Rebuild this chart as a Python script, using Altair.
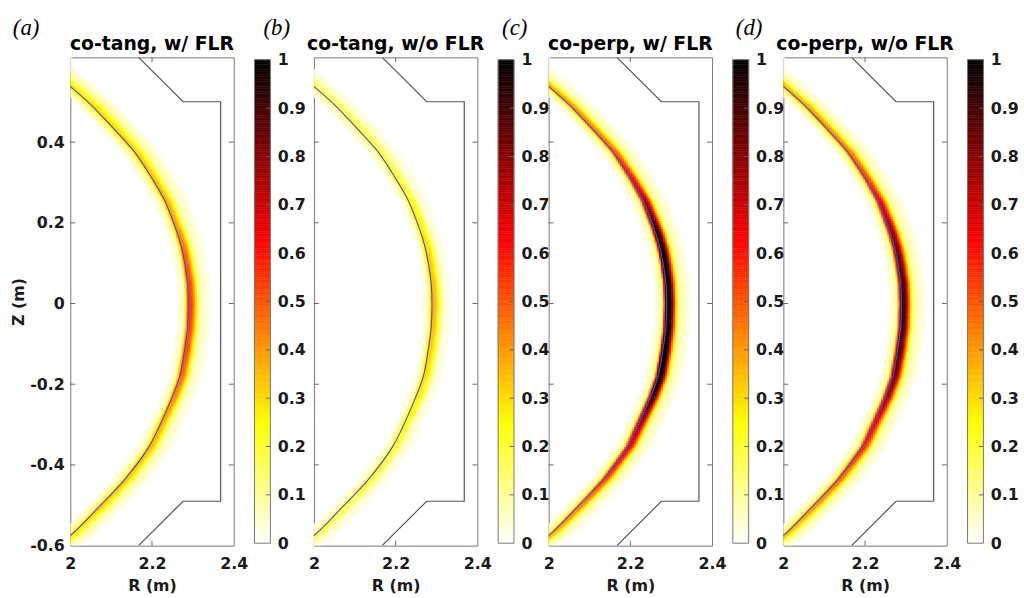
import numpy as np
import pandas as pd
import altair as alt

# ---------------- data ----------------
# plasma boundary (blue line), R (m) and Z (m)
curve_R = [1.945, 2.000, 2.053, 2.098, 2.157, 2.200, 2.232, 2.260, 2.272, 2.280, 2.287,
           2.289, 2.287, 2.279, 2.268, 2.248, 2.193, 2.134, 2.070, 2.000, 1.95]
curve_Z = [0.585, 0.538, 0.490, 0.442, 0.376, 0.310, 0.253, 0.180, 0.140, 0.100, 0.050,
           0.0, -0.060, -0.120, -0.180, -0.235, -0.354, -0.435, -0.504, -0.575, -0.61]

# wall outline (grey line)
wall_R = [2.167, 2.276, 2.368, 2.368, 2.276, 2.167]
wall_Z = [0.61, 0.500, 0.500, -0.490, -0.490, -0.600]

# heat-load intensity along the boundary (sampled at these Z)
Z_PTS = [0.6, 0.5, 0.4, 0.3, 0.2, 0.1, 0.0, -0.1, -0.2, -0.3, -0.4, -0.5, -0.6]
core_a = [0.10, 0.13, 0.16, 0.22, 0.30, 0.42, 0.48, 0.44, 0.38, 0.28, 0.22, 0.18, 0.14]
haze_a = [0.16, 0.18, 0.17, 0.14, 0.11, 0.10, 0.10, 0.10, 0.10, 0.11, 0.13, 0.15, 0.14]
core_b = [0.08, 0.10, 0.12, 0.16, 0.22, 0.28, 0.32, 0.28, 0.24, 0.18, 0.15, 0.12, 0.10]
haze_b = [0.08, 0.09, 0.08, 0.07, 0.06, 0.06, 0.06, 0.06, 0.06, 0.06, 0.07, 0.08, 0.08]
core_c = [0.20, 0.27, 0.33, 0.52, 0.82, 0.94, 1.00, 0.97, 0.92, 0.66, 0.45, 0.32, 0.22]
haze_c = [0.13, 0.15, 0.15, 0.15, 0.15, 0.15, 0.15, 0.15, 0.15, 0.15, 0.15, 0.15, 0.13]
core_d = [0.20, 0.25, 0.30, 0.42, 0.65, 0.78, 0.84, 0.80, 0.72, 0.52, 0.38, 0.28, 0.20]
haze_d = [0.13, 0.15, 0.15, 0.15, 0.15, 0.15, 0.15, 0.15, 0.15, 0.15, 0.15, 0.15, 0.13]

# radial shape across the boundary (distance R - R_boundary, m)
CORE_D = [-0.010, -0.005, 0.0, 0.006, 0.012, 0.018, 0.024, 0.032]
CORE_F = [0.0, 0.45, 0.90, 1.00, 0.85, 0.50, 0.20, 0.0]
HALO_D = [-0.035, -0.015, 0.0, 0.020, 0.040, 0.060, 0.085]
HALO_F = [0.0, 0.50, 1.00, 0.85, 0.45, 0.12, 0.0]

titles = ["co-tang, w/ FLR", "co-tang, w/o FLR", "co-perp, w/ FLR", "co-perp, w/o FLR"]
labels = ["(a)", "(b)", "(c)", "(d)"]
label_dx = [-58, -51, -47, -48]
cores = [core_a, core_b, core_c, core_d]
hazes = [haze_a, haze_b, haze_c, haze_d]

R_TICKS = [2, 2.2, 2.4]
Z_TICKS = [-0.6, -0.4, -0.2, 0, 0.2, 0.4]
CB_TICKS = [0, 0.1, 0.2, 0.3, 0.4, 0.5, 0.6, 0.7, 0.8, 0.9, 1]

# ---------------- build tables ----------------
zs_sorted = np.array(curve_Z[::-1])
rs_sorted = np.array(curve_R[::-1])
zp = np.array(Z_PTS[::-1])


def field(core_vals, haze_vals):
    dR, dZ = 0.005, 0.005
    rows = []
    for z0 in np.round(np.arange(-0.6, 0.6075, dZ), 4):
        zc = z0 + dZ / 2
        rc = np.interp(zc, zs_sorted, rs_sorted)
        cp = np.interp(zc, zp, np.array(core_vals[::-1]))
        hp = np.interp(zc, zp, np.array(haze_vals[::-1]))
        for r0 in np.round(np.arange(2.0, 2.4, dR), 4):
            d = r0 + dR / 2 - rc
            v = cp * np.interp(d, CORE_D, CORE_F, left=0, right=0) + \
                hp * np.interp(d, HALO_D, HALO_F, left=0, right=0)
            v = min(v, 1.0)
            if v >= 0.02:
                rows.append((r0, r0 + dR, z0, min(z0 + dZ, 0.61), round(v, 4)))
    return pd.DataFrame(rows, columns=["x", "x2", "y", "y2", "v"])


curve_df = pd.DataFrame({"x": curve_R, "y": curve_Z, "i": range(len(curve_R))})
wall_df = pd.DataFrame({"x": wall_R, "y": wall_Z, "i": range(len(wall_R))})

tick_rows = []
for z in Z_TICKS[1:]:
    tick_rows.append((2.0, 2.012, z, z))
    tick_rows.append((2.388, 2.4, z, z))
for r in R_TICKS[1:-1]:
    tick_rows.append((r, r, -0.6, -0.588))
    tick_rows.append((r, r, 0.598, 0.61))
ticks_df = pd.DataFrame(tick_rows, columns=["x", "x2", "y", "y2"])

cb_vals = np.round(np.arange(0, 1, 0.005), 4)
cb_df = pd.DataFrame({"y": cb_vals, "y2": cb_vals + 0.005, "v": cb_vals + 0.0025})
cb_tick_df = pd.DataFrame({"y": CB_TICKS[1:-1]})
cb_box_df = pd.DataFrame({"y": [0.0], "y2": [1.0]})

# ---------------- styling ----------------
FONT = "DejaVu Sans"
color_scale = alt.Scale(domain=[0, 0.25, 0.625, 1],
                        range=["#ffffff", "#ffff00", "#ff0000", "#000000"],
                        interpolate="rgb")
xs = alt.Scale(domain=[2.0, 2.4], nice=False, zero=False)
ys = alt.Scale(domain=[-0.6, 0.61], nice=False, zero=False)

PW, PH = 165, 493
LFS = 16


def x_axis():
    return alt.Axis(values=R_TICKS, labelExpr="'' + datum.value", labelFlush=False,
                    domain=False, ticks=False, grid=False, labelFont=FONT,
                    labelFontWeight="bold", labelFontSize=LFS, labelColor="#1a1a1a",
                    labelPadding=10, titleFont=FONT, titleFontWeight="bold",
                    titleFontSize=LFS, titleColor="#1a1a1a", titlePadding=6)


def y_axis():
    return alt.Axis(values=Z_TICKS, labelExpr="'' + datum.value", labelFlush=False,
                    domain=False, ticks=False, grid=False, labelFont=FONT,
                    labelFontWeight="bold", labelFontSize=LFS, labelColor="#1a1a1a",
                    labelPadding=6, titleFont=FONT, titleFontWeight="bold",
                    titleFontSize=LFS, titleColor="#1a1a1a", titlePadding=3)


def plot_panel(k):
    show_y = (k == 0)
    X = alt.X("x:Q", scale=xs, axis=x_axis(), title="R (m)")
    Y = alt.Y("y:Q", scale=ys, axis=(y_axis() if show_y else None), title="Z (m)")
    heat = alt.Chart(field(cores[k], hazes[k])).mark_rect(clip=True, strokeWidth=0.4).encode(
        x=X, x2="x2:Q", y=Y, y2="y2:Q",
        color=alt.Color("v:Q", scale=color_scale, legend=None),
        stroke=alt.Stroke("v:Q", scale=color_scale, legend=None),
    )
    wall = alt.Chart(wall_df).mark_line(color="#555555", strokeWidth=1.2, clip=True).encode(
        x=X, y=Y, order="i:Q")
    line = alt.Chart(curve_df).mark_line(color="#4646ff", strokeWidth=1.1, clip=True,
                                         interpolate="catmull-rom").encode(
        x=X, y=Y, order="i:Q")
    ticks = alt.Chart(ticks_df).mark_rule(color="#666666", strokeWidth=1).encode(
        x=X, x2="x2:Q", y=Y, y2="y2:Q")
    lab = alt.Chart(pd.DataFrame({"t": [labels[k]]})).mark_text(
        align="left", baseline="top", font="Liberation Serif", fontStyle="italic",
        fontSize=23, color="black").encode(
        text="t:N", x=alt.value(label_dx[k]), y=alt.value(-41))
    ttl = alt.Chart(pd.DataFrame({"t": [titles[k]]})).mark_text(
        align="center", baseline="alphabetic", font=FONT, fontWeight="bold",
        fontSize=19, color="black").encode(
        text="t:N", x=alt.value(PW / 2), y=alt.value(-7))
    return alt.layer(heat, wall, line, ticks, lab, ttl).properties(
        width=PW, height=PH,
        view=alt.ViewBackground(stroke="#777777", strokeWidth=1),
    )


def colorbar(width):
    cxs = alt.Scale(domain=[0, width / 16.0], nice=False, zero=False)
    cys = alt.Scale(domain=[-0.005, 1.005], nice=False, zero=False)
    Y = alt.Y("y:Q", scale=cys, axis=alt.Axis(
        orient="right", values=CB_TICKS, labelExpr="'' + datum.value",
        offset=-(width - 16), domain=False, ticks=False, grid=False,
        labelFont=FONT, labelFontWeight="bold", labelFontSize=LFS, labelColor="#1a1a1a",
        labelPadding=7, labelFlush=False), title=None)
    bar = alt.Chart(cb_df).mark_rect(strokeWidth=0.5).encode(
        x=alt.datum(0, scale=cxs, axis=None), x2=alt.datum(1),
        y=Y, y2="y2:Q",
        color=alt.Color("v:Q", scale=color_scale, legend=None),
        stroke=alt.Stroke("v:Q", scale=color_scale, legend=None))
    tk = alt.Chart(cb_tick_df).mark_rule(color="#666666", strokeWidth=1).encode(
        x=alt.datum(0.72, scale=cxs, axis=None), x2=alt.datum(1.0), y=Y)
    box = alt.Chart(cb_box_df).mark_rect(fillOpacity=0, stroke="#777777", strokeWidth=1).encode(
        x=alt.datum(0, scale=cxs, axis=None), x2=alt.datum(1), y=Y, y2="y2:Q")
    return alt.layer(bar, tk, box).properties(width=width, height=PH)


cb_widths = [39, 30, 30, 16]
panels = []
for k in range(4):
    panels.append(plot_panel(k))
    panels.append(colorbar(cb_widths[k]))

chart = alt.hconcat(*panels, spacing=21, bounds="flush").properties(
    padding={"left": 10, "top": 13, "right": 5, "bottom": 5},
    background="white",
).configure_view(stroke="transparent")

chart.save("out.html", embed_options={"renderer": "svg", "actions": False})
